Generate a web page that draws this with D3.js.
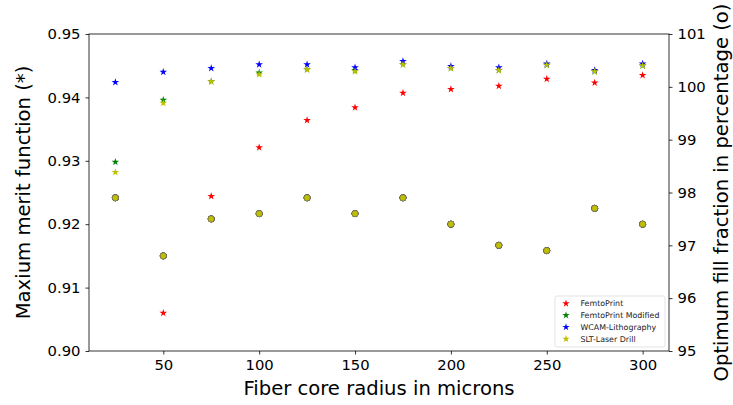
<!DOCTYPE html>
<html><head><meta charset="utf-8">
<script src="https://cdn.jsdelivr.net/npm/d3@7"></script>
<style>body{margin:0;background:#fff}svg{display:block}text{font-family:"DejaVu Sans",sans-serif}</style>
</head><body><svg id="c" width="733" height="405"></svg>
<script>
const radius = [25,50,75,100,125,150,175,200,225,250,275,300];
const seriesNames = ["FemtoPrint","FemtoPrint Modified","WCAM-Lithography","SLT-Laser Drill"];
const seriesColors = ["#ff0000","#008000","#0000ff","#bfbf00"];
// merit function (stars, left axis)
const meritFemto    = [null,0.9060,0.9244,0.9321,0.9364,0.9384,0.9407,0.9413,0.9418,0.9429,0.9423,0.9435];
const meritFemtoMod = [0.9298,0.9396,0.9425,0.9439,0.9444,0.9443,0.9452,0.9446,0.9443,0.9451,0.9441,0.9450];
const meritWcam     = [0.9424,0.9440,0.9446,0.9452,0.9452,0.9447,0.9457,0.9449,0.9447,0.9453,0.9443,0.9453];
const meritSlt      = [0.9282,0.9391,0.9425,0.9436,0.9444,0.9441,0.9452,0.9446,0.9443,0.9451,0.9441,0.9450];
// fill fraction (circles, right axis) - identical for all series
const fillFraction  = [97.9,96.8,97.5,97.6,97.9,97.6,97.9,97.4,97.0,96.9,97.7,97.4];
const leftTicks = [0.90,0.91,0.92,0.93,0.94,0.95];
const rightTicks = [95,96,97,98,99,100,101];
const xTicks = [50,100,150,200,250,300];

const merit = [meritFemto, meritFemtoMod, meritWcam, meritSlt];

const svg = d3.select("#c");
const L=89, R=669, T=34, B=351;
const x = d3.scaleLinear().domain([11.25,313.75]).range([L,R]);
const yL = d3.scaleLinear().domain([0.90,0.95]).range([B,T]);
const yR = d3.scaleLinear().domain([95,101]).range([B,T]);

const fs = 14.8;
const gx = svg.append("g").attr("transform",`translate(0,${B})`)
  .call(d3.axisBottom(x).tickValues(xTicks).tickSize(3.5).tickPadding(5).tickFormat(d3.format("d")));
const gl = svg.append("g").attr("transform",`translate(${L},0)`)
  .call(d3.axisLeft(yL).tickValues(leftTicks).tickSize(3.5).tickPadding(5).tickFormat(d3.format(".2f")));
const gr = svg.append("g").attr("transform",`translate(${R},0)`)
  .call(d3.axisRight(yR).tickValues(rightTicks).tickSize(3.5).tickPadding(5).tickFormat(d3.format("d")));
[gx,gl,gr].forEach(g=>{
  g.selectAll("text").attr("font-size",fs).attr("font-family","DejaVu Sans").attr("fill","#000");
  g.selectAll("line").attr("stroke","#000").attr("stroke-width",0.8);
  g.select(".domain").remove();
});
svg.append("rect").attr("x",L).attr("y",T).attr("width",R-L).attr("height",B-T)
  .attr("fill","none").attr("stroke","#000").attr("stroke-width",0.8);

const plot = svg.append("g");
// circles
seriesColors.forEach((c,i)=>{
  plot.selectAll(null).data(radius.map((r,j)=>({r,v:fillFraction[j]}))).enter()
    .append("circle").attr("cx",d=>x(d.r)).attr("cy",d=>yR(d.v)).attr("r",3.1)
    .attr("fill",c).attr("stroke", i===3 ? "#8a8a30" : c).attr("stroke-width",0.8);
});
// stars
const star = d3.symbol().type(d3.symbolStar).size(18);
merit.forEach((arr,i)=>{
  plot.selectAll(null).data(radius.map((r,j)=>({r,v:arr[j]})).filter(d=>d.v!=null)).enter()
    .append("path").attr("d",star)
    .attr("transform",d=>`translate(${x(d.r)},${yL(d.v)})`)
    .attr("fill",seriesColors[i]);
});

// labels
svg.append("text").attr("x",(L+R)/2).attr("y",395).attr("text-anchor","middle")
  .attr("font-size",19.6).text("Fiber core radius in microns");
svg.append("text").attr("transform",`translate(29.5,${(T+B)/2}) rotate(-90)`).attr("text-anchor","middle")
  .attr("font-size",19.6).text("Maxium merit function (*)");
svg.append("text").attr("transform",`translate(727.5,${(T+B)/2}) rotate(-90)`).attr("text-anchor","middle")
  .attr("font-size",19.6).text("Optimum fill fraction in percentage (o)");

// legend
const lg = svg.append("g").attr("transform","translate(555,296)");
lg.append("rect").attr("width",110).attr("height",51).attr("rx",2).attr("fill","#fff")
  .attr("fill-opacity",0.8).attr("stroke","#dcdcdc").attr("stroke-width",0.8);
seriesNames.forEach((n,i)=>{
  const yy = 7.5 + i*11.8;
  lg.append("path").attr("d",d3.symbol().type(d3.symbolStar).size(17))
    .attr("transform",`translate(11,${yy})`).attr("fill",seriesColors[i]);
  lg.append("text").attr("x",25.5).attr("y",yy).attr("dy","0.35em").attr("font-size",7.9)
    .attr("fill","#222").text(n);
});
</script></body></html>
